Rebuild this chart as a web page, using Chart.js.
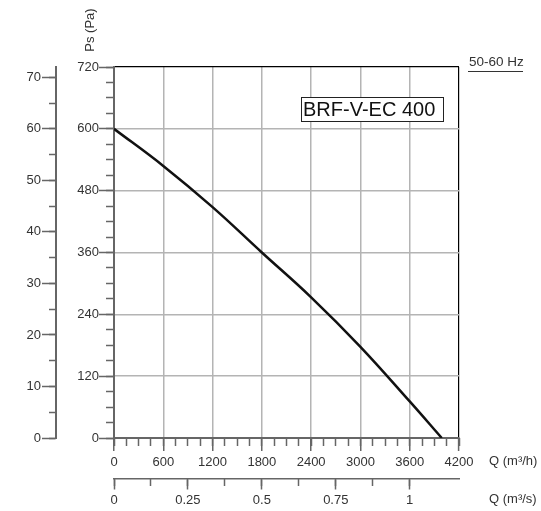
<!DOCTYPE html>
<html>
<head>
<meta charset="utf-8">
<script src="https://cdn.jsdelivr.net/npm/chart.js@4"></script>
<style>
	html, body { margin: 0; padding: 0; background: #fff; }
	#wrap { width: 541px; height: 511px; }
</style>
</head>
<body>
<div id="wrap"><canvas id="canvas" width="541" height="511"></canvas></div>
<script>
// fan curve BRF-V-EC 400
const flowM3h = [0, 600, 1200, 1800, 2400, 3000, 3600, 3990];
const pressurePa = [600, 528, 448, 360, 273, 177, 71, 0];

const flowTicks = [0, 600, 1200, 1800, 2400, 3000, 3600, 4200];
const pressureTicks = [0, 120, 240, 360, 480, 600, 720];
const flowM3sTicks = [0, 0.25, 0.5, 0.75, 1];
const leftTicks = [0, 10, 20, 30, 40, 50, 60, 70];

const FLOW_MAX = 4200;
const PA_MAX = 720;

window.onload = () => {
	const canvas = document.getElementById("canvas").getContext("2d");

	Chart.defaults.font.family = "'Liberation Sans', Arial, sans-serif";
	Chart.defaults.font.size = 13;
	Chart.defaults.color = "#333";

	const axisGrey = "#666";
	const gridGrey = "#b4b4b4";

	const textPlugin = {
		id: "texts",
		afterDraw(chart) {
			const ctx = chart.ctx;
			const a = chart.chartArea;
			ctx.save();
			ctx.fillStyle = "#333";
			ctx.font = "13px 'Liberation Sans', Arial, sans-serif";

			// y title, rotated above the axis
			ctx.save();
			ctx.translate(a.left - 24, a.top - 37);
			ctx.rotate(-Math.PI / 2);
			ctx.textAlign = "center";
			ctx.textBaseline = "middle";
			ctx.fillText("Ps (Pa)", 0, 0);
			ctx.restore();

			ctx.textAlign = "left";
			ctx.textBaseline = "middle";
			ctx.fillText("Q (m³/h)", a.right + 30, a.bottom + 23);
			ctx.fillText("Q (m³/s)", a.right + 30, a.bottom + 61);

			// 50-60 Hz with underline
			ctx.font = "13.5px 'Liberation Sans', Arial, sans-serif";
			ctx.fillText("50-60 Hz", a.right + 10, a.top - 5);
			ctx.strokeStyle = "#333";
			ctx.lineWidth = 1;
			ctx.beginPath();
			ctx.moveTo(a.right + 9, a.top + 4.5);
			ctx.lineTo(a.right + 64, a.top + 4.5);
			ctx.stroke();

			// model box
			ctx.font = "20px 'Liberation Sans', Arial, sans-serif";
			ctx.fillStyle = "#fff";
			ctx.fillRect(a.left + 187, a.top + 30, 142, 24);
			ctx.strokeStyle = "#222";
			ctx.strokeRect(a.left + 187.5, a.top + 30.5, 142, 24);
			ctx.fillStyle = "#111";
			ctx.fillText("BRF-V-EC 400", a.left + 189, a.top + 43);
			ctx.restore();
		},
	};

	const xAt = (px) => -px * FLOW_MAX / 345; // data value left of the plot
	const yAt = (px) => -px * PA_MAX / 371;   // data value below the plot

	// tick-mark-only axis (no labels)
	const tickAxis = (pos, max, step, len, extra) => Object.assign({
		type: "linear",
		position: pos,
		min: 0, max: max,
		ticks: { stepSize: step, autoSkip: false, display: false },
		grid: { drawOnChartArea: false, tickLength: len, tickColor: axisGrey, tickWidth: 1.5 },
		border: { display: false },
	}, extra || {});

	const config = {
		type: "line",
		data: {
			datasets: [{
				label: "BRF-V-EC 400",
				data: flowM3h.map((q, i) => ({ x: q, y: pressurePa[i] })),
				borderColor: "#111",
				borderWidth: 2.5,
				pointRadius: 0,
				tension: 0.4,
				xAxisID: "x",
				yAxisID: "y",
			}],
		},
		plugins: [textPlugin],
		options: {
			responsive: false,
			animation: false,
			layout: { padding: { left: 114, top: 67, right: 82, bottom: 73 } },
			plugins: { legend: { display: false }, tooltip: { enabled: false } },
			scales: {
				x: {
					type: "linear",
					position: { y: 0 },
					min: 0, max: FLOW_MAX,
					afterBuildTicks: (s) => { s.ticks = flowTicks.map(v => ({ value: v })); },
					ticks: { autoSkip: false, maxRotation: 0, padding: 5, callback: (v) => String(v) },
					grid: {
						color: (c) => c.tick && c.tick.value === FLOW_MAX ? "#000" : gridGrey,
						lineWidth: (c) => c.tick && c.tick.value === FLOW_MAX ? 1.2 : 1.5,
						tickLength: 12, tickColor: axisGrey, tickWidth: 1.5,
					},
					border: { color: axisGrey, width: 2 },
				},
				xMinor: tickAxis({ y: 0 }, FLOW_MAX, 150, 8),
				xs: {
					type: "linear",
					position: { y: yAt(41) },
					min: 0, max: FLOW_MAX / 3600,
					afterBuildTicks: (s) => { s.ticks = flowM3sTicks.map(v => ({ value: v })); },
					ticks: { autoSkip: false, maxRotation: 0, padding: 4, callback: (v) => String(v) },
					grid: { drawOnChartArea: false, tickLength: 10, tickColor: axisGrey, tickWidth: 1.5 },
					border: { color: axisGrey, width: 1.5 },
				},
				xsMinor: tickAxis({ y: yAt(41) }, FLOW_MAX / 3600, 0.125, 7, {
					grid: {
						drawOnChartArea: false, tickLength: 7, tickWidth: 1.5,
						tickColor: (c) => c.tick && c.tick.value > 1 ? "rgba(0,0,0,0)" : axisGrey,
					},
				}),
				// labels + chart grid of the Pa axis, labels sit left of the tick marks
				y: {
					type: "linear",
					position: { x: xAt(15) },
					min: 0, max: PA_MAX,
					afterBuildTicks: (s) => { s.ticks = pressureTicks.map(v => ({ value: v })); },
					ticks: { autoSkip: false, callback: (v) => String(v) },
					grid: {
						drawTicks: false,
						color: (c) => c.tick && c.tick.value === PA_MAX ? "#000" : gridGrey,
						lineWidth: (c) => c.tick && c.tick.value === PA_MAX ? 1.2 : 1.5,
					},
					border: { display: false },
				},
				yTicks: tickAxis({ x: 0 }, PA_MAX, 120, 14, { border: { color: axisGrey, width: 2 } }),
				yMinor: tickAxis({ x: 0 }, PA_MAX, 30, 8),
				yp: {
					type: "linear",
					position: { x: xAt(58 + 15) },
					min: 0, max: PA_MAX / 10,
					afterBuildTicks: (s) => { s.ticks = leftTicks.map(v => ({ value: v })); },
					ticks: { autoSkip: false, callback: (v) => String(v) },
					grid: { drawOnChartArea: false, drawTicks: false },
					border: { display: false },
				},
				ypTicks: tickAxis({ x: xAt(58) }, PA_MAX / 10, 10, 13, {
					ticks: { stepSize: 10, autoSkip: false, display: false, includeBounds: false },
					border: { color: axisGrey, width: 2 },
				}),
				ypMinor: tickAxis({ x: xAt(58) }, PA_MAX / 10, 5, 7, {
					ticks: { stepSize: 5, autoSkip: false, display: false, includeBounds: false },
				}),
			},
		},
	};

	const chart = new Chart(canvas, config);
}
</script>
</body>
</html>
